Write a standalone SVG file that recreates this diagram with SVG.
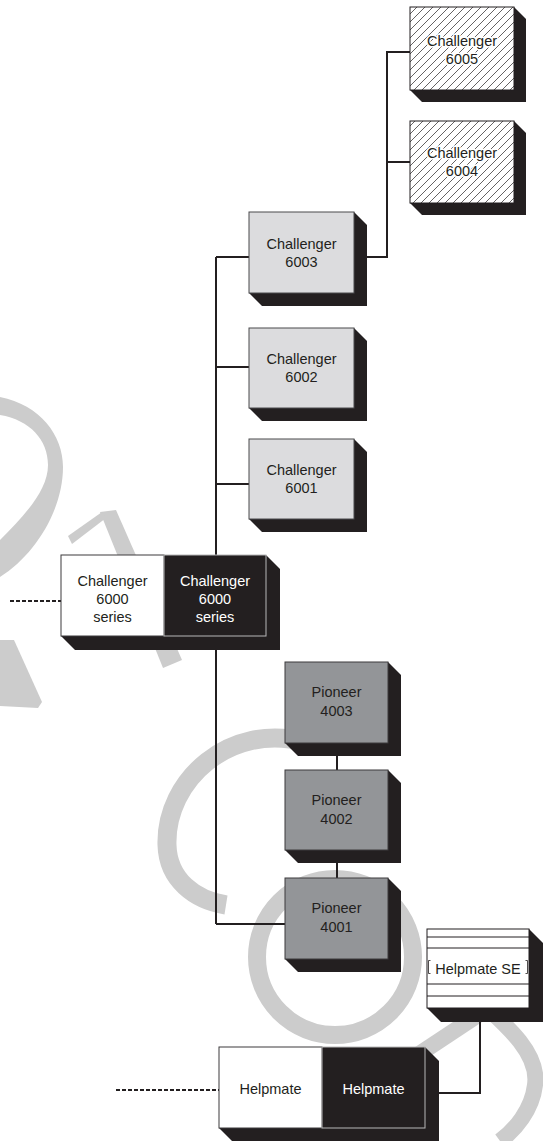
<svg xmlns="http://www.w3.org/2000/svg" width="543" height="1141" viewBox="0 0 543 1141">
<style>
.wm{fill:none;stroke:#cccccc;stroke-linecap:butt}
.wmf{fill:#cccccc}
.sh{fill:#231f20}
.lg{fill:#dcdcde;stroke:#4a4a4c;stroke-width:1}
.pi{fill:#939598;stroke:#3d3b3c;stroke-width:1}
.ht{fill:url(#hatch);stroke:#231f20;stroke-width:1}
.wh{fill:#ffffff;stroke:#3d3b3c;stroke-width:1}
.bk{fill:#231f20;stroke:#b8b8b8;stroke-width:1}
.con{fill:none;stroke:#231f20;stroke-width:2}
.dash{fill:none;stroke:#231f20;stroke-width:2;stroke-dasharray:4 2}
.t{font-family:"Liberation Sans",Arial,sans-serif;font-size:14.5px;text-anchor:middle;fill:#231f20}
.tw{fill:#ffffff}
.halo{stroke:#ffffff;stroke-width:3;paint-order:stroke;stroke-linejoin:round}
.ln{fill:none;stroke:#231f20;stroke-width:1}
.br{fill:none;stroke:#231f20;stroke-width:0.8}
</style>
<defs>
<pattern id="hatch" patternUnits="userSpaceOnUse" width="8" height="8">
<rect width="8" height="8" fill="#ffffff"/>
<path d="M0,8 L8,0 M-2,2 L2,-2 M6,10 L10,6" stroke="#231f20" stroke-width="0.7"/>
</pattern>
</defs>

<g id="watermark">
<path class="wmf" d="M0,397 C40,405 63,435 63,467 C63,510 35,555 0,577 L0,540 C25,515 48,490 48,465 C48,440 30,420 0,415 Z"/>
<polygon class="wmf" points="100,512 116,510 182,660 163,668"/>
<polygon class="wmf" points="68,536 102,512 106,518 72,544"/>
<polygon class="wmf" points="0,640 14,640 42,702 38,708 0,706"/>
<path class="wm" stroke-width="19" d="M305,742 C230,722 165,780 167,845 C168,880 195,900 226,905"/>
<circle class="wm" cx="335" cy="957" r="78" stroke-width="18"/>
<path class="wm" stroke-width="16" d="M395,1070 L478,1015"/>
<path class="wm" stroke-width="16" d="M462,985 C500,1020 540,1050 535,1085 C532,1110 515,1130 500,1141"/>
</g>

<g id="connectors">
<path class="con" d="M216,257 L216,924 M216,257 L249,257 M216,367 L249,367 M216,484 L249,484 M216,924 L285,924"/>
<path class="con" d="M354,257 L387,257 L387,52 L410,52 M387,162 L410,162"/>
<path class="con" d="M337,743 L337,878"/>
<path class="con" d="M480,1008 L480,1093 L430,1093"/>
<path class="dash" d="M10,601 L61,601"/>
<path class="dash" d="M116,1090 L219,1090"/>
</g>

<g id="challenger6005">
<polygon class="sh" points="514,7 526,19 526,102 422,102 410,90"/>
<rect class="ht" x="410" y="7" width="104" height="83"/>
<text class="t halo" x="462" y="46">Challenger</text>
<text class="t halo" x="462" y="64">6005</text>
</g>
<g id="challenger6004">
<polygon class="sh" points="514,121 526,133 526,215 422,215 410,203"/>
<rect class="ht" x="410" y="121" width="104" height="82"/>
<text class="t halo" x="462" y="158">Challenger</text>
<text class="t halo" x="462" y="176">6004</text>
</g>
<g id="challenger6003">
<polygon class="sh" points="354,212 367,225 367,306 262,306 249,293"/>
<rect class="lg" x="249" y="212" width="105" height="81"/>
<text class="t" x="301.5" y="249">Challenger</text>
<text class="t" x="301.5" y="267">6003</text>
</g>
<g id="challenger6002">
<polygon class="sh" points="354,328 367,341 367,421 262,421 249,408"/>
<rect class="lg" x="249" y="328" width="105" height="80"/>
<text class="t" x="301.5" y="364">Challenger</text>
<text class="t" x="301.5" y="382">6002</text>
</g>
<g id="challenger6001">
<polygon class="sh" points="354,439 367,452 367,532 262,532 249,519"/>
<rect class="lg" x="249" y="439" width="105" height="80"/>
<text class="t" x="301.5" y="475">Challenger</text>
<text class="t" x="301.5" y="493">6001</text>
</g>
<g id="challenger6000">
<polygon class="sh" points="266,555 280,569 280,650 75,650 61,636"/>
<rect class="wh" x="61" y="555" width="103" height="81"/>
<rect class="bk" x="164" y="555" width="102" height="81"/>
<text class="t" x="112.5" y="586">Challenger</text>
<text class="t" x="112.5" y="604">6000</text>
<text class="t" x="112.5" y="622">series</text>
<text class="t tw" x="215" y="586">Challenger</text>
<text class="t tw" x="215" y="604">6000</text>
<text class="t tw" x="215" y="622">series</text>
</g>
<g id="pioneer4003">
<polygon class="sh" points="388,662 401,675 401,756 298,756 285,743"/>
<rect class="pi" x="285" y="662" width="103" height="81"/>
<text class="t" x="336.5" y="697">Pioneer</text>
<text class="t" x="336.5" y="716">4003</text>
</g>
<g id="pioneer4002">
<polygon class="sh" points="388,770 401,783 401,863 298,863 285,850"/>
<rect class="pi" x="285" y="770" width="103" height="80"/>
<text class="t" x="336.5" y="805">Pioneer</text>
<text class="t" x="336.5" y="824">4002</text>
</g>
<g id="pioneer4001">
<polygon class="sh" points="388,878 401,891 401,972 298,972 285,959"/>
<rect class="pi" x="285" y="878" width="103" height="81"/>
<text class="t" x="336.5" y="913">Pioneer</text>
<text class="t" x="336.5" y="932">4001</text>
</g>
<g id="helpmateSE">
<polygon class="sh" points="529,929 543,943 543,1022 441,1022 427,1008"/>
<rect x="427" y="929" width="102" height="79" fill="#ffffff" stroke="#231f20" stroke-width="1"/>
<path class="ln" d="M427,937 L529,937 M427,948 L529,948 M427,984 L529,984 M427,996 L529,996"/>
<path class="br" d="M430.5,960.5 L428.5,960.5 L428.5,973.5 L430.5,973.5 M525.5,960.5 L527.5,960.5 L527.5,973.5 L525.5,973.5"/>
<text class="t" x="478" y="974" font-size="14">Helpmate SE</text>
</g>
<g id="helpmate">
<polygon class="sh" points="425,1047 439,1061 439,1142 233,1142 219,1128"/>
<rect class="wh" x="219" y="1047" width="103" height="81"/>
<rect class="bk" x="322" y="1047" width="103" height="81"/>
<text class="t" x="270.5" y="1094">Helpmate</text>
<text class="t tw" x="373.5" y="1094">Helpmate</text>
</g>
</svg>
